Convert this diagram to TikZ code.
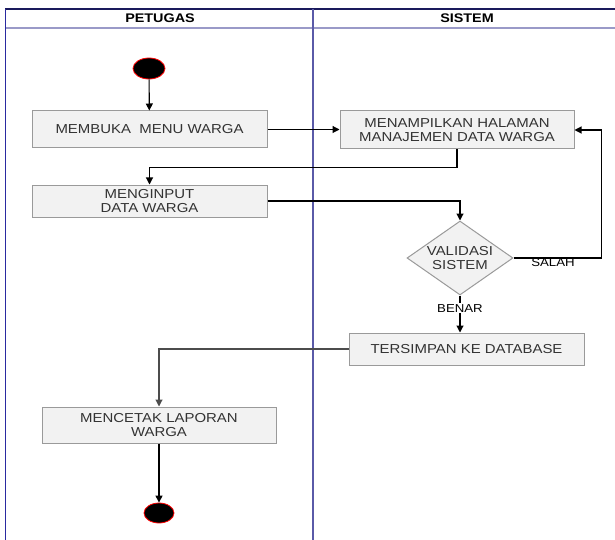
\documentclass[tikz,border=0pt]{standalone}
\usepackage{fontspec}
\setmainfont{Liberation Sans}[FakeStretch=1.15]
\usetikzlibrary{shapes.geometric,arrows.meta,calc}
\definecolor{topline}{HTML}{1A1A5C}
\definecolor{headline}{HTML}{9A9AC8}
\definecolor{leftline}{HTML}{2A2AA0}
\definecolor{midline}{HTML}{5A5AA8}
\definecolor{boxfill}{HTML}{F2F2F2}
\definecolor{boxline}{HTML}{9A9A9A}
\definecolor{boxtext}{HTML}{333333}
\begin{document}
\begin{tikzpicture}[x=1pt,y=-1pt,
  box/.style={draw=boxline,line width=1pt,fill=boxfill,rectangle,inner sep=0pt,
    align=center,text=boxtext,font=\fontsize{13}{14}\selectfont},
  dec/.style={draw=boxline,line width=1pt,fill=boxfill,diamond,inner sep=0pt,
    aspect=1.43,minimum width=106pt,minimum height=74pt,align=center,text=boxtext,
    font=\fontsize{13}{14}\selectfont},
  term/.style={draw=red,fill=black,ellipse,line width=0.8pt,inner sep=0pt},
  conn/.style={draw=black,line width=1.1pt,-{Triangle[length=7pt,width=7pt]}},
  lbl/.style={font=\fontsize{11.5}{12}\selectfont,text=black,inner sep=1pt},
  hdr/.style={font=\bfseries\fontsize{12.5}{14}\selectfont,text=black}]
\useasboundingbox (0,0) rectangle (615,540);
% swimlane frame
\draw[topline,line width=1.2pt] (5,9) -- (615,9);
\draw[headline,line width=1.5pt] (5,28) -- (615,28);
\draw[leftline,line width=1.4pt] (5.5,9) -- (5.5,540);
\draw[midline,line width=1.4pt] (313,9) -- (313,540);
\node[hdr] (h1) at (160,18.5) {PETUGAS};
\node[hdr] (h2) at (467,18.5) {SISTEM};
% nodes
\node[term,minimum width=32pt,minimum height=21pt] (start) at (149,68.5) {};
\node[box,minimum width=235pt,minimum height=37pt] (b1) at (149.5,129.5) {MEMBUKA\ \ MENU WARGA};
\node[box,minimum width=234pt,minimum height=38pt] (b3) at (457,130) {MENAMPILKAN HALAMAN\\MANAJEMEN DATA WARGA};
\node[box,minimum width=235pt,minimum height=32pt] (b2) at (149.5,201) {MENGINPUT\\DATA WARGA};
\node[dec] (dia) at (460,258) {VALIDASI\\SISTEM};
\node[box,minimum width=235pt,minimum height=32pt] (b4) at (466.5,349) {TERSIMPAN KE DATABASE};
\node[box,minimum width=234pt,minimum height=36pt] (b5) at (159,425) {MENCETAK LAPORAN\\WARGA};
\node[term,minimum width=30pt,minimum height=20pt] (end) at (159,513) {};
% connectors
\draw[conn] (start) -- (b1);
\draw[conn] (b1.east) -- (b1.east -| b3.west);
\draw[conn] (b3.south) -- ++(0,18) -| (b2.north);
\draw[conn] (b2.east) -| (dia.north);
\draw[conn] (dia.east) -- ++(88,0) coordinate (sr) |- (b3.east);
\node[lbl] (salah) at (553,263) {SALAH};
\draw[conn] (dia.south) -- (dia.south |- b4.north) node[pos=0.35,lbl,fill=white] (benar) {BENAR};
\draw[conn,draw=black!70] (b4.west) -| (b5.north);
\draw[conn] (b5.south) -- (end);
\end{tikzpicture}
\end{document}
